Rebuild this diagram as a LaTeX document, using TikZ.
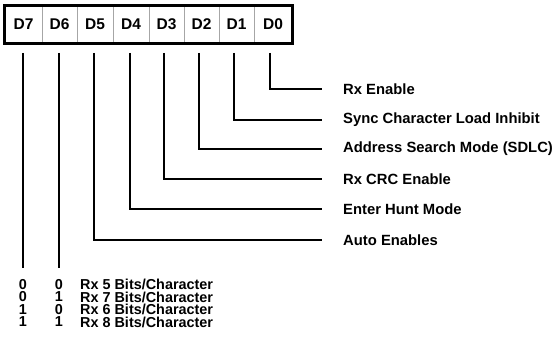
\documentclass[tikz,border=0pt]{standalone}
\usepackage{fontspec}
\setmainfont{Liberation Sans}
\begin{document}
\begin{tikzpicture}[x=1pt,y=-1pt,
  txt/.style={font=\fontsize{14.4}{16}\selectfont\bfseries, inner sep=0pt},
  lbl/.style={font=\fontsize{14.8}{16}\selectfont\bfseries, inner sep=0pt, anchor=west},
  tbl/.style={txt, anchor=west},
  cellbox/.style={draw=black!35, line width=0.8pt, fill=white, minimum height=37pt, inner sep=0pt, font=\fontsize{15.5}{17}\selectfont\bfseries},
  wire/.style={line width=2pt}]
\useasboundingbox (0,0) rectangle (556,352);
% register cells
\foreach \n/\a/\b in {7/5/42,6/42/77,5/77/113,4/113/149,3/149/184,2/184/219,1/219/254,0/254/292}{
  \pgfmathsetmacro{\w}{\b-\a}
  \pgfmathsetmacro{\m}{(\a+\b)/2}
  \node[cellbox, minimum width=\w pt] (c\n) at (\m,24.5) {D\n};
}
\draw[line width=3.5pt] (c7.north west) rectangle (c0.south east);
% taps
\foreach \n/\x in {7/23,6/59,5/94,4/130,3/164,2/199,1/234,0/270}{
  \coordinate (t\n) at (\x,53);
}
% labels
\node[lbl] (l0) at (343,89) {Rx Enable};
\node[lbl] (l1) at (343,120) {Sync Character Load Inhibit};
\node[lbl] (l2) at (343,149) {Address Search Mode (SDLC)};
\node[lbl] (l3) at (343,179) {Rx CRC Enable};
\node[lbl] (l4) at (343,209) {Enter Hunt Mode};
\node[lbl] (l5) at (343,240) {Auto Enables};
\foreach \n in {0,...,5}{
  \draw[wire] (t\n) |- ([xshift=-21pt]l\n.west);
}
\coordinate (e7) at (23,268);
\coordinate (e6) at (59,268);
\draw[wire] (t7) -- (e7);
\draw[wire] (t6) -- (e6);
% table
\node[txt] (a1) at (23,284.5) {0}; \node[txt] (b1) at (59,284.5) {0}; \node[tbl] (r1) at (80,284.5) {Rx 5 Bits/Character};
\node[txt] (a2) at (23,297) {0}; \node[txt] (b2) at (59,297) {1}; \node[tbl] (r2) at (80,297) {Rx 7 Bits/Character};
\node[txt] (a3) at (23,309.5) {1}; \node[txt] (b3) at (59,309.5) {0}; \node[tbl] (r3) at (80,309.5) {Rx 6 Bits/Character};
\node[txt] (a4) at (23,322) {1}; \node[txt] (b4) at (59,322) {1}; \node[tbl] (r4) at (80,322) {Rx 8 Bits/Character};
\end{tikzpicture}
\end{document}
